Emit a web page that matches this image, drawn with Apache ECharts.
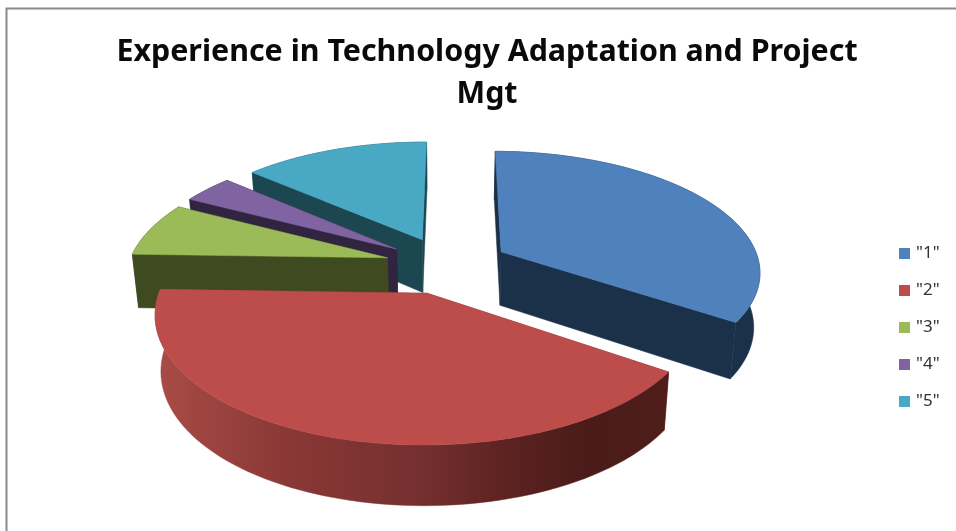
<!DOCTYPE html>
<html>
<head>
<meta charset="utf-8">
<style>html,body{margin:0;padding:0;background:#fff}#c{width:956px;height:531px}</style>
<script src="https://cdn.jsdelivr.net/npm/echarts@6/dist/echarts.min.js"></script>
</head>
<body>
<div id="c"></div>
<script>
// ---- data ----
const categories = ['"1"', '"2"', '"3"', '"4"', '"5"'];
const shares = [34.4, 41, 7.2, 3.75, 13.65];
const titleLines = ['Experience in Technology Adaptation and Project', 'Mgt'];

// ---- style ----
const topColors = ['#4f81bd', '#bc4d4b', '#9bbb59', '#8064a2', '#49a9c4'];
const wallColors = ['#1b3049', '#7a3330', '#404a20', '#302440', '#1c4650'];
const drawOrder = [4, 5, 3, 2, 1];
const startAngle = 0.3, explode = 0.24;
const view = { cx: 447, cy: 265, R: 259, A: 119.4, persp: 0.151, depth: 54, shrink: 0.98 };

const chart = echarts.init(document.getElementById('c'));
const total = shares.reduce((a, b) => a + b, 0);
const rad = d => d * Math.PI / 180;

function project(u, v, low) {
  const s = 1 / (1 - view.persp * v);
  let x = view.cx + view.R * u * s, y = view.cy + view.A * v * s;
  if (low) {
    x = view.cx + (x - view.cx) * view.shrink;
    y += view.depth * (1 + 0.1 * v);
  }
  return [x, y];
}

function wallFill(i) {
  if (i !== 1) return wallColors[i];
  return new echarts.graphic.LinearGradient(160, 0, 665, 0, [
    { offset: 0, color: '#a84b46' },
    { offset: 0.25, color: '#8a3836' },
    { offset: 0.5, color: '#76302f' },
    { offset: 0.72, color: '#58211f' },
    { offset: 0.85, color: '#4a1b19' },
    { offset: 1, color: '#4f1e1b' }
  ], true);
}

function renderSlice(i, api) {
  const val = api.value(0);
  let before = 0;
  for (let k = 0; k < i; k++) before += shares[k];
  const a0 = startAngle + before / total * 360;
  const a1 = a0 + val / total * 360;
  const mid = rad((a0 + a1) / 2);
  const ox = explode * Math.sin(mid), oy = -explode * Math.cos(mid);
  const pt = (deg, r, low) => project(ox + r * Math.sin(rad(deg)), oy - r * Math.cos(rad(deg)), low);
  const arc = [], arcLow = [];
  const n = Math.max(6, Math.ceil((a1 - a0) / 2));
  for (let k = 0; k <= n; k++) {
    const t = a0 + (a1 - a0) * k / n;
    arc.push(pt(t, 1, false));
    arcLow.push(pt(t, 1, true));
  }
  const hub = pt(a0, 0, false), hubLow = pt(a0, 0, true);
  const poly = (points, fill) => ({
    type: 'polygon',
    shape: { points },
    style: { fill, stroke: fill, lineWidth: 0.5 }
  });
  return {
    type: 'group',
    children: [
      poly([hub, arc[0], arcLow[0], hubLow], wallColors[i]),
      poly([hub, arc[n], arcLow[n], hubLow], wallColors[i]),
      poly(arc.concat(arcLow.slice().reverse()), wallFill(i)),
      poly([hub].concat(arc), topColors[i])
    ]
  };
}

chart.setOption({
  animation: false,
  title: {
    text: titleLines.join('\n'),
    left: 482, top: 26, textAlign: 'center',
    textStyle: { fontFamily: 'Noto Sans', fontWeight: 'bold', fontSize: 30.4, lineHeight: 42, color: '#0a0a0a' }
  },
  legend: {
    orient: 'vertical', left: 894, top: 240,
    icon: 'rect', itemWidth: 11, itemHeight: 11, itemGap: 20,
    data: categories,
    textStyle: { fontFamily: 'Noto Sans', fontSize: 17, color: '#333', padding: [0, 0, 0, 1], height: 16, lineHeight: 16 },
    selectedMode: false
  },
  graphic: [{
    type: 'rect', silent: true,
    shape: { x: 6.5, y: 8.5, width: 1200, height: 1200 },
    style: { fill: 'none', stroke: '#8a8a8a', lineWidth: 2 }
  }],
  series: categories.map((name, i) => ({
    type: 'custom',
    name,
    coordinateSystem: 'none',
    z: drawOrder[i] + 2,
    silent: true,
    itemStyle: { color: topColors[i] },
    data: [[shares[i]]],
    renderItem: (params, api) => renderSlice(i, api)
  }))
});
</script>
</body>
</html>
